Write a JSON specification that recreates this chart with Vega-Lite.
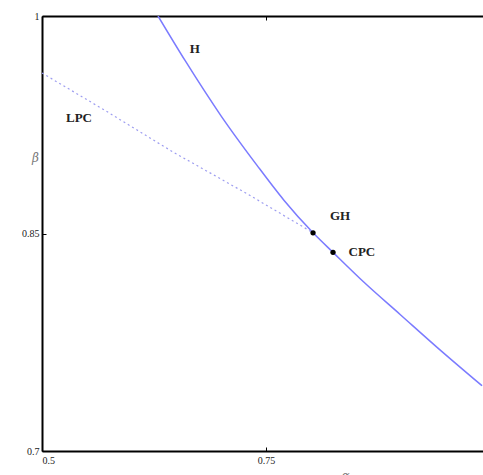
{
  "$schema": "https://vega.github.io/schema/vega-lite/v6.json",
  "width": 441,
  "height": 435,
  "autosize": {"type": "none"},
  "padding": {"left": 42, "top": 16, "right": 0, "bottom": 24},
  "background": "white",
  "config": {
    "view": {"stroke": null},
    "axis": {
      "grid": false,
      "domainColor": "black",
      "domainWidth": 2,
      "tickColor": "black",
      "tickWidth": 1,
      "tickSize": -4,
      "labelFont": "Liberation Sans Narrow",
      "labelFontSize": 10,
      "labelColor": "#222",
      "labelOverlap": false,
      "labelBound": false,
      "format": ".2~f",
      "titleFont": "DejaVu Serif",
      "titleFontStyle": "italic",
      "titleFontWeight": "normal",
      "titleColor": "#777",
      "titleFontSize": 12
    }
  },
  "datasets": {
    "H": [
      {"alpha": 0.6295, "beta": 1.0},
      {"alpha": 0.66, "beta": 0.969},
      {"alpha": 0.70, "beta": 0.931},
      {"alpha": 0.74, "beta": 0.897},
      {"alpha": 0.77, "beta": 0.873},
      {"alpha": 0.8025, "beta": 0.8505},
      {"alpha": 0.8248, "beta": 0.837},
      {"alpha": 0.86, "beta": 0.816},
      {"alpha": 0.90, "beta": 0.794},
      {"alpha": 0.94, "beta": 0.772},
      {"alpha": 0.9911, "beta": 0.745}
    ],
    "LPC": [
      {"alpha": 0.5, "beta": 0.9607},
      {"alpha": 0.57, "beta": 0.935},
      {"alpha": 0.6462, "beta": 0.9062},
      {"alpha": 0.73, "beta": 0.877},
      {"alpha": 0.8025, "beta": 0.8505}
    ],
    "pts": [
      {"alpha": 0.8025, "beta": 0.8505, "name": "GH"},
      {"alpha": 0.8248, "beta": 0.837, "name": "CPC"}
    ],
    "labels": [
      {"alpha": 0.6705, "beta": 0.977, "text": "H"},
      {"alpha": 0.5413, "beta": 0.9297, "text": "LPC"},
      {"alpha": 0.8326, "beta": 0.862, "text": "GH"},
      {"alpha": 0.857, "beta": 0.837, "text": "CPC"}
    ]
  },
  "layer": [
    {
      "data": {"name": "H"},
      "mark": {"type": "line", "color": "#7b7bff", "strokeWidth": 1.5, "interpolate": "monotone", "clip": true},
      "encoding": {
        "x": {"field": "alpha", "type": "quantitative", "scale": {"domain": [0.5, 0.9922], "nice": false, "zero": false},
              "axis": {"values": [0.5, 0.75], "title": "α", "titleX": 303, "titleY": 19, "titleBaseline": "top", "titleAnchor": null, "labelPadding": 8}},
        "y": {"field": "beta", "type": "quantitative", "scale": {"domain": [0.7, 1.0], "nice": false, "zero": false},
              "axis": {"values": [0.7, 0.85, 1], "title": "β", "titleAngle": 0, "titleX": -7, "titleY": 141, "titleAlign": "center", "titleBaseline": "middle", "labelPadding": 7}},
        "order": {"field": "alpha", "type": "quantitative"}
      }
    },
    {
      "data": {"name": "LPC"},
      "mark": {"type": "line", "color": "#9d9df0", "strokeWidth": 1.2, "strokeDash": [2, 3], "clip": true},
      "encoding": {
        "x": {"field": "alpha", "type": "quantitative", "axis": {"orient": "top", "labels": false, "title": null, "values": [0.5, 0.75]}},
        "y": {"field": "beta", "type": "quantitative"}
      }
    },
    {
      "data": {"name": "pts"},
      "mark": {"type": "point", "filled": true, "color": "black", "size": 28, "opacity": 1},
      "encoding": {
        "x": {"field": "alpha", "type": "quantitative", "axis": null},
        "y": {"field": "beta", "type": "quantitative"}
      }
    },
    {
      "data": {"name": "labels"},
      "mark": {"type": "text", "font": "Liberation Serif", "fontSize": 13, "fontWeight": "bold", "color": "#222", "align": "center", "baseline": "middle"},
      "encoding": {
        "x": {"field": "alpha", "type": "quantitative", "axis": null},
        "y": {"field": "beta", "type": "quantitative"},
        "text": {"field": "text"}
      }
    }
  ],
  "resolve": {"axis": {"x": "independent"}}
}
